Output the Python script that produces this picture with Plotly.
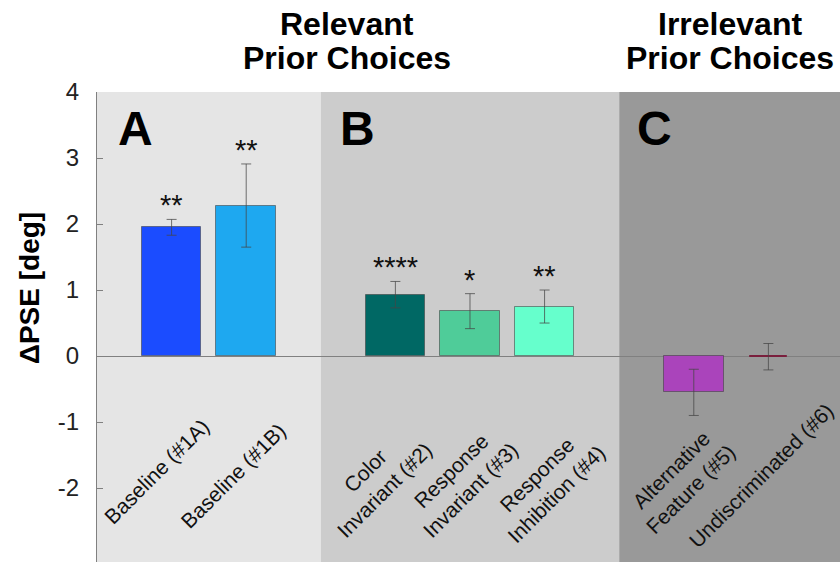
import plotly.graph_objects as go

# ---------------- data ----------------
categories = ["Baseline (#1A)", "Baseline (#1B)", "Color\nInvariant (#2)",
              "Response\nInvariant (#3)", "Response\nInhibition (#4)",
              "Alternative\nFeature (#5)", "Undiscriminated (#6)"]
values = [1.95, 2.28, 0.93, 0.68, 0.75, -0.55, -0.01]
errors = [0.12, 0.63, 0.20, 0.265, 0.25, 0.35, 0.20]
stars = ["**", "**", "****", "*", "**", "", ""]
panel_letters = ["A", "B", "C"]
group_title_top = ["Relevant", "Irrelevant"]
group_title_bottom = ["Prior Choices", "Prior Choices"]
y_ticks = [-2, -1, 0, 1, 2, 3, 4]
y_tick_labels = ["-2", "-1", "0", "1", "2", "3", "4"]
y_title = "ΔPSE [deg]"

# ---------------- layout / style ----------------
slots = [1, 2, 4, 5, 6, 8, 9]
bar_widths = [0.8, 0.8, 0.8, 0.8, 0.8, 0.8, 0.5]
colors = ["#1b4cff", "#1ea8f0", "#006864", "#4fcc99", "#66ffcc", "#aa44bb", "#7a1f3d"]
outline = ["rgba(60,60,60,0.55)"] * 6 + ["#7a1f3d"]
label_dx = [-0.20, -0.174, -0.271, -0.118, 0.031, -0.169, -0.099]
label_y = [-1.753, -1.806, -1.882, -1.882, -1.942, -1.866, -1.806]
regions = [(0, 3, "#e5e5e5"), (3, 7, "#cccccc"), (7, 10.5, "#999999")]
letter_x = [0.519, 3.488, 7.469]
title_x = [3.35, 8.49]
FONT = "Arial, Liberation Sans, Helvetica, sans-serif"

fig = go.Figure()
fig.add_trace(go.Bar(
    x=slots, y=values, width=bar_widths,
    marker=dict(color=colors, line=dict(color=outline, width=1)),
    error_y=dict(type="data", array=errors, visible=True,
                 color="rgba(70,70,70,0.75)", thickness=1, width=5),
    hoverinfo="skip", showlegend=False,
))

shapes = []
for x0, x1, c in regions:
    shapes.append(dict(type="rect", xref="x", yref="paper", x0=x0, x1=x1, y0=0, y1=1,
                       fillcolor=c, line=dict(width=0), layer="below"))

ann = []
# stars
for s, v, e, sx in zip(stars, values, errors, slots):
    if s:
        ann.append(dict(x=sx, y=v + e, text=s, showarrow=False, xanchor="center",
                        yanchor="bottom", yshift=-4,
                        font=dict(family=FONT, size=29, color="#111111")))
# category labels
for cat, sx, dx, ly in zip(categories, slots, label_dx, label_y):
    ann.append(dict(x=sx + dx, y=ly, text=cat.replace("\n", "<br>"), showarrow=False,
                    textangle=-45, xanchor="center", yanchor="middle", align="center",
                    font=dict(family=FONT, size=21, color="#111111")))
# panel letters
for lt, lx in zip(panel_letters, letter_x):
    ann.append(dict(x=lx, y=3.44, text="<b>%s</b>" % lt, showarrow=False,
                    xanchor="center", yanchor="middle",
                    font=dict(family=FONT, size=48, color="#000000")))
# group titles
for t1, t2, tx in zip(group_title_top, group_title_bottom, title_x):
    ann.append(dict(x=tx, xref="x", y=1.1447, yref="paper", text="<b>%s</b>" % t1,
                    showarrow=False, xanchor="center", yanchor="middle",
                    font=dict(family=FONT, size=32, color="#000000")))
    ann.append(dict(x=tx, xref="x", y=1.0723, yref="paper", text="<b>%s</b>" % t2,
                    showarrow=False, xanchor="center", yanchor="middle",
                    font=dict(family=FONT, size=32, color="#000000")))
# y-axis title
ann.append(dict(x=-0.0899, xref="paper", y=0.583, yref="paper", text="<b>%s</b>" % y_title,
                showarrow=False, textangle=-90, xanchor="center", yanchor="middle",
                font=dict(family=FONT, size=28, color="#000000")))

fig.update_layout(
    width=840, height=562,
    margin=dict(l=97, r=0, t=92, b=0),
    paper_bgcolor="white", plot_bgcolor="white",
    shapes=shapes, annotations=ann,
    bargap=0,
    xaxis=dict(range=[0, 9.96], showgrid=False, zeroline=False, showticklabels=False,
               ticks="", showline=False, fixedrange=True),
    yaxis=dict(range=[-3.12, 4], tickvals=y_ticks, ticktext=y_tick_labels,
               showgrid=False, zeroline=True, zerolinecolor="#808080", zerolinewidth=1,
               showline=True, linecolor="#808080", linewidth=1,
               ticks="inside", ticklen=6, tickcolor="#808080",
               ticklabelstandoff=12,
               tickfont=dict(family=FONT, size=24, color="#222222")),
)

fig.write_html("out.html",
               config={"displayModeBar": False},
               post_script="document.body.style.margin='0px';"
                           "document.body.style.overflow='hidden';")
